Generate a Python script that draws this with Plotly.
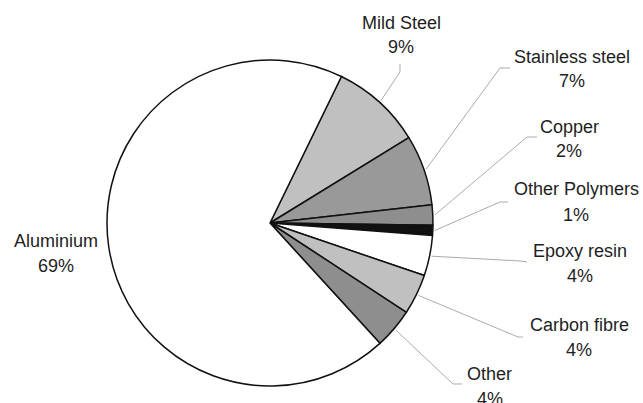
import math
import plotly.graph_objects as go

# Material breakdown (share of total mass, %)
materials = ["Mild Steel", "Stainless steel", "Copper", "Other Polymers",
             "Epoxy resin", "Carbon fibre", "Other", "Aluminium"]
shares = [9, 7, 2, 1, 4, 4, 4, 69]
fills = ["#c0c0c0", "#999999", "#8e8e8e", "#111111",
         "#ffffff", "#c0c0c0", "#8e8e8e", "#ffffff"]

W, H = 643, 403
CX, CY, R = 270, 223, 163          # pie centre and radius in pixels
ROTATION = 26                       # first slice starts 26 deg clockwise of 12 o'clock
LINE_GAP = 25                       # distance between name and percentage lines

# label block centres (pixels) and leader-line elbow / end points
label_pos = {
    "Mild Steel": (401, 35),
    "Stainless steel": (572, 69),
    "Copper": (569, 139),
    "Other Polymers": (576, 202),
    "Epoxy resin": (580, 263),
    "Carbon fibre": (579, 337),
    "Other": (490, 386),
    "Aluminium": (56, 253),
}
leader_pts = {
    "Mild Steel": [(400, 72), (400, 64)],
    "Stainless steel": [(500, 68), (510, 68)],
    "Copper": [(527, 137), (537, 137)],
    "Other Polymers": [(500, 202), (508, 202)],
    "Epoxy resin": [(520, 261), (527, 262)],
    "Carbon fibre": [(518, 337), (523, 337)],
    "Other": [(453, 384), (462, 384)],
}

label_font = dict(family="Liberation Sans, Arial, sans-serif", size=18, color="#1e1e1e")


def px(x, y):
    return x / W, 1 - y / H


fig = go.Figure(go.Pie(
    labels=materials,
    values=shares,
    sort=False,
    direction="clockwise",
    rotation=ROTATION,
    marker=dict(colors=fills, line=dict(color="#111111", width=1.5)),
    textinfo="none",
    hoverinfo="label+percent",
    showlegend=False,
    domain=dict(x=[(CX - R) / W, (CX + R) / W],
                y=[1 - (CY + R) / H, 1 - (CY - R) / H]),
))

total = sum(shares)
shapes, annotations = [], []
start = ROTATION
for name, val in zip(materials, shares):
    span = 360 * val / total
    mid = math.radians(start + span / 2)
    start += span
    if name in leader_pts:
        x0 = CX + (R + 2) * math.sin(mid)
        y0 = CY - (R + 2) * math.cos(mid)
        pts = [(x0, y0)] + leader_pts[name]
        path = "M " + " L ".join(f"{px(x, y)[0]:.5f},{px(x, y)[1]:.5f}" for x, y in pts)
        shapes.append(dict(type="path", path=path, xref="paper", yref="paper",
                           line=dict(color="#ababab", width=1)))
    lx, ly = label_pos[name]
    for txt, dy in ((name, -LINE_GAP / 2), (f"{val}%", LINE_GAP / 2)):
        ax, ay = px(lx, ly + dy)
        annotations.append(dict(
            x=ax, y=ay, xref="paper", yref="paper", showarrow=False,
            text=txt, xanchor="center", yanchor="middle", font=label_font,
        ))

fig.update_layout(
    width=W, height=H,
    margin=dict(l=0, r=0, t=0, b=0),
    paper_bgcolor="#ffffff",
    plot_bgcolor="#ffffff",
    shapes=shapes,
    annotations=annotations,
)

fig.write_html("out.html")
